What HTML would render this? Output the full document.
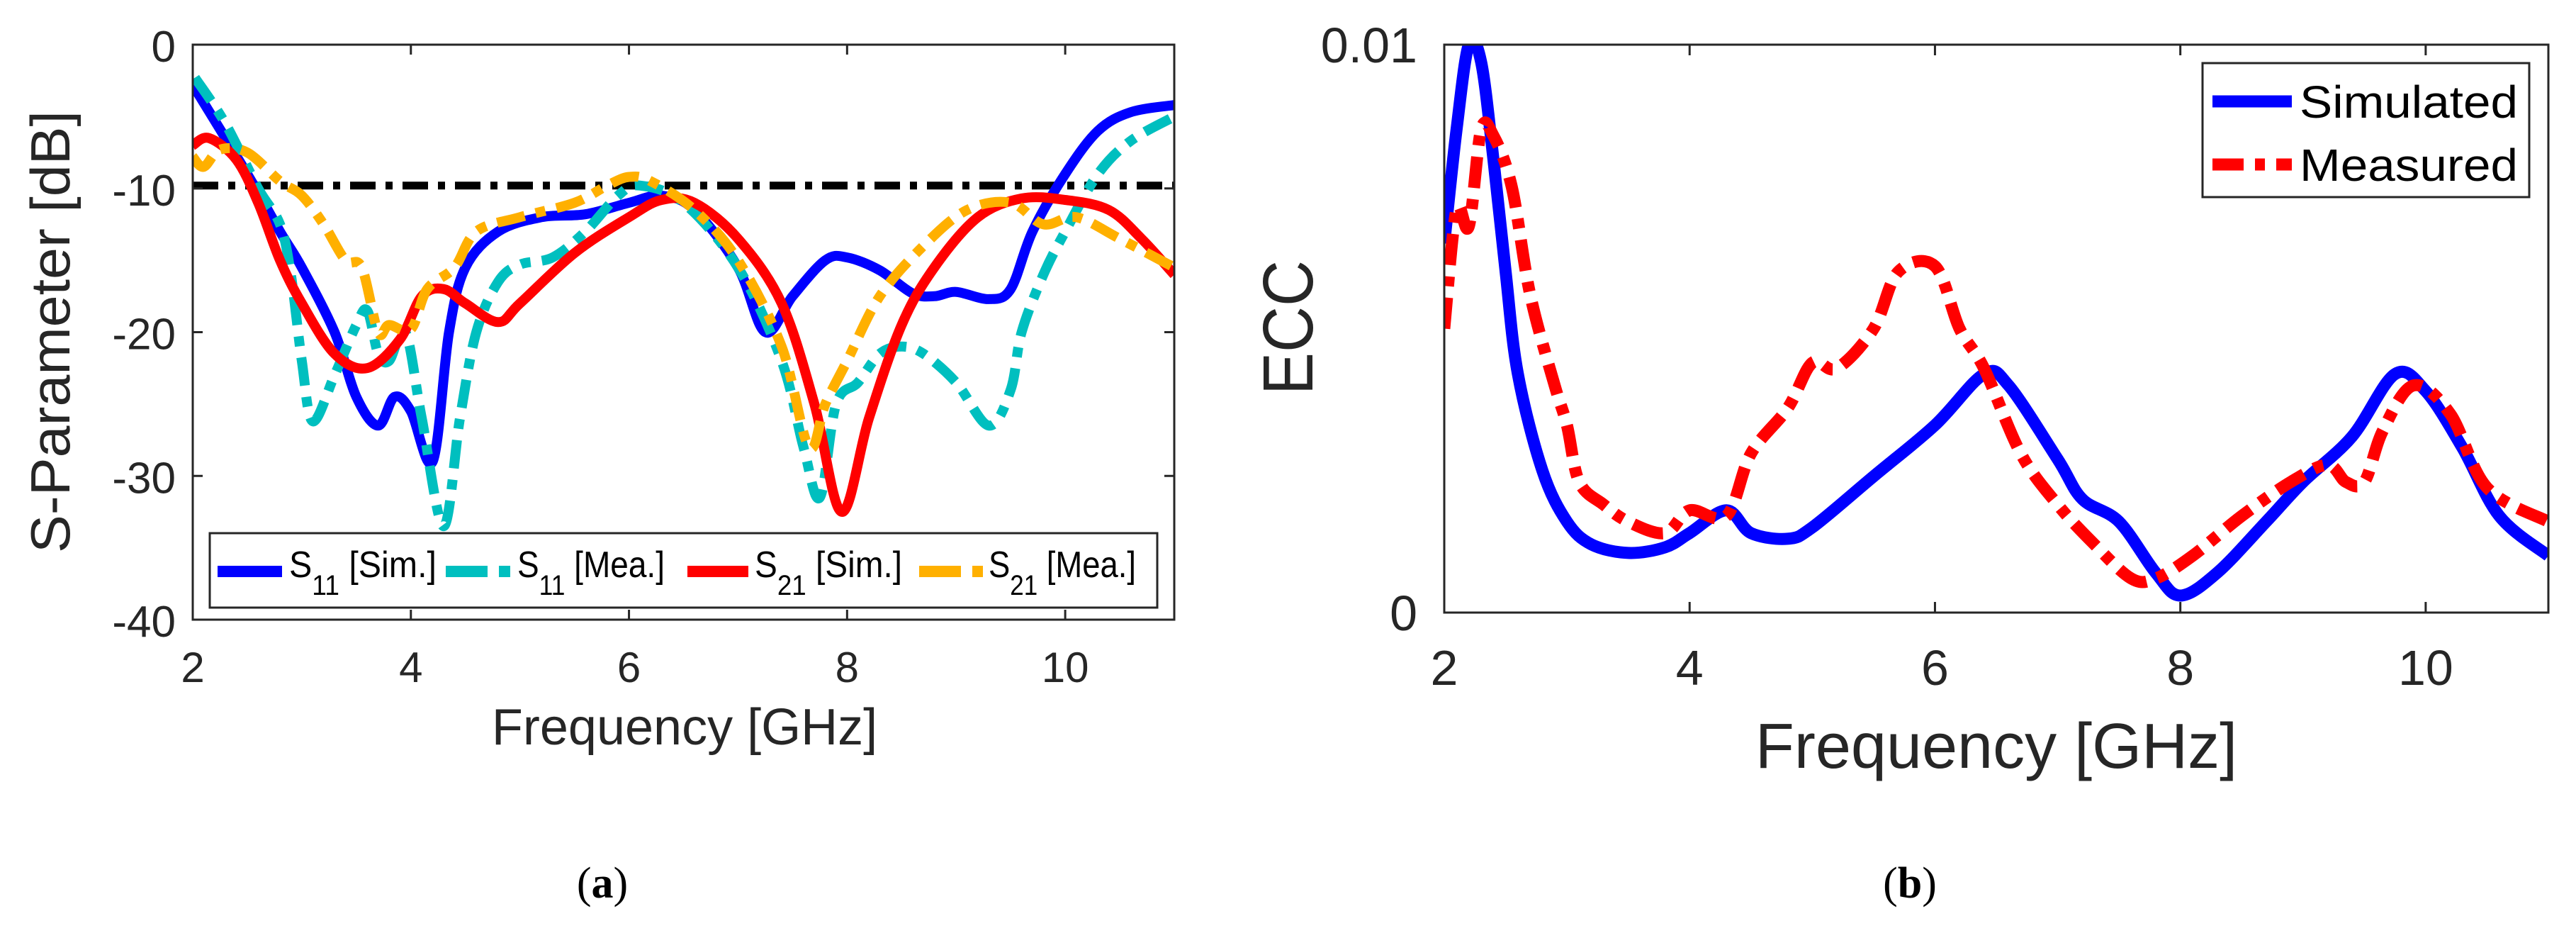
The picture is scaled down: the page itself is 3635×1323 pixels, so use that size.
<!DOCTYPE html>
<html><head><meta charset="utf-8"><style>
html,body{margin:0;padding:0;background:#fff;}
svg{display:block;font-family:"Liberation Sans",sans-serif;}
</style></head><body>
<svg id="fig" width="3635" height="1323" viewBox="0 0 3635 1323" xmlns="http://www.w3.org/2000/svg">
<rect width="3635" height="1323" fill="#fff"/>
<g id="pa"></g>
<g id="pb"></g>
<text x="850" y="1266" font-family="Liberation Serif,serif" font-size="62" text-anchor="middle">(<tspan font-weight="bold">a</tspan>)</text>
<text x="2695" y="1266" font-family="Liberation Serif,serif" font-size="62" text-anchor="middle">(<tspan font-weight="bold">b</tspan>)</text>
</svg>
<script>
// ---- Chart (a) data ----
const aXTicks=[2,4,6,8,10];
const aYTicks=[0,-10,-20,-30,-40];
const aYTickLabels=["0","-10","-20","-30","-40"];
const s11SimX=[2,2.5,2.8,3.0,3.3,3.5,3.7,3.85,4.0,4.2,4.35,4.5,4.8,5.2,5.6,6.0,6.3,6.6,7.0,7.25,7.5,7.8,8.0,8.3,8.6,8.8,9.0,9.3,9.5,9.7,10.0,10.3,10.6,11];
const s11SimY=[-2.8,-9,-13,-15.5,-20,-24.5,-26.5,-24.5,-25.5,-29,-20,-15.5,-13,-12,-11.8,-11,-10.5,-11.5,-15.5,-20,-17.5,-15,-14.8,-15.7,-17.3,-17.5,-17.2,-17.7,-17,-13,-9,-6,-4.7,-4.2];
const s11MeaX=[2.02,2.3,2.6,2.8,2.9,3.0,3.1,3.3,3.5,3.6,3.7,3.8,3.95,4.1,4.3,4.45,4.6,4.8,5.0,5.3,5.6,5.9,6.1,6.5,7.0,7.4,7.6,7.75,7.9,8.1,8.3,8.5,8.7,9.0,9.3,9.5,9.6,9.8,10.0,10.3,10.6,11];
const s11MeaY=[-2.3,-5.5,-10,-12.5,-16,-22,-26.2,-23,-19.5,-18.5,-21.5,-22,-20,-26,-33.5,-26,-20,-16.5,-15.3,-14.8,-13,-10.5,-9.8,-11,-15.5,-22,-28,-31.5,-25,-23.5,-21.5,-21,-21.5,-23.5,-26.5,-24,-20,-16,-13,-9,-6.7,-5];
const s21SimX=[2,2.15,2.4,2.6,2.8,3.0,3.3,3.6,3.9,4.1,4.3,4.5,4.8,5.0,5.5,6.0,6.3,6.6,7.0,7.4,7.7,7.95,8.2,8.5,8.8,9.2,9.6,10.0,10.4,10.7,11];
const s21SimY=[-7,-6.5,-8,-11,-15,-18,-21.5,-22.5,-20.5,-17.5,-17,-18,-19.3,-18,-14.5,-12,-10.8,-11,-13.5,-18,-25,-32.5,-26,-19.5,-15.5,-12,-10.7,-10.8,-11.5,-13.5,-16];
const s21MeaX=[2,2.1,2.25,2.5,2.8,3.0,3.2,3.4,3.55,3.7,3.8,4.0,4.15,4.4,4.6,5.0,5.5,5.8,6.0,6.2,6.6,7.0,7.4,7.65,7.8,8.0,8.3,8.7,9.1,9.5,9.8,10.1,10.5,11];
const s21MeaY=[-7.8,-8.5,-7.3,-7.5,-9.5,-10.5,-12.5,-15,-15.5,-20,-19.5,-19.8,-17,-15.5,-13,-12,-11,-9.8,-9.2,-9.5,-11.5,-15,-21,-28,-25,-22,-17.5,-14,-11.5,-11,-12.5,-12,-13.5,-15.5];
const thresholdDb=[-9.8];
// ---- Chart (b) data ----
const bXTicks=[2,4,6,8,10];
const bYTicks=[0,0.01];
const bYTickLabels=["0","0.01"];
const eccSimX=[2.0,2.1,2.2,2.3,2.4,2.5,2.6,2.8,3.0,3.2,3.5,3.8,4.0,4.3,4.5,4.8,5.0,5.5,6.0,6.4,6.6,7.0,7.2,7.5,7.8,8.0,8.3,8.7,9.0,9.4,9.75,10.0,10.3,10.6,11];
const eccSimY=[0.0065,0.0085,0.0100,0.0097,0.0080,0.0060,0.0042,0.0025,0.0016,0.0012,0.00105,0.00115,0.0014,0.0018,0.0014,0.0013,0.0015,0.0024,0.0033,0.0042,0.0040,0.0027,0.0020,0.0016,0.0007,0.0003,0.0007,0.0016,0.0023,0.0031,0.0042,0.0039,0.0029,0.0017,0.0010];
const eccMeaX=[2.0,2.1,2.2,2.3,2.4,2.55,2.7,2.9,3.0,3.1,3.3,3.5,3.8,4.0,4.3,4.5,4.8,5.0,5.2,5.5,5.7,6.0,6.2,6.4,6.7,7.0,7.3,7.6,7.8,8.1,8.5,8.9,9.2,9.35,9.5,9.65,9.9,10.2,10.5,11];
const eccMeaY=[0.0050,0.0071,0.0068,0.0085,0.0084,0.0075,0.0056,0.0040,0.0033,0.0023,0.0019,0.0016,0.0014,0.0018,0.0017,0.0028,0.0036,0.0044,0.0043,0.0050,0.0060,0.0061,0.0050,0.0043,0.0028,0.0019,0.0012,0.0006,0.0006,0.0010,0.0017,0.0023,0.0026,0.0023,0.0023,0.0032,0.0040,0.0035,0.0022,0.0016];

const NS="http://www.w3.org/2000/svg";
function mk(tag,attrs,parent){const e=document.createElementNS(NS,tag);for(const k in attrs)e.setAttribute(k,attrs[k]);if(parent)parent.appendChild(e);return e;}
function smooth(px,py){let d="M"+px[0].toFixed(1)+","+py[0].toFixed(1);
 for(let i=0;i<px.length-1;i++){const x0=px[Math.max(i-1,0)],y0=py[Math.max(i-1,0)],x1=px[i],y1=py[i],x2=px[i+1],y2=py[i+1],x3=px[Math.min(i+2,px.length-1)],y3=py[Math.min(i+2,py.length-1)];
 const c1x=x1+(x2-x0)/6,c1y=y1+(y2-y0)/6,c2x=x2-(x3-x1)/6,c2y=y2-(y3-y1)/6;
 d+=" C"+c1x.toFixed(1)+","+c1y.toFixed(1)+" "+c2x.toFixed(1)+","+c2y.toFixed(1)+" "+x2.toFixed(1)+","+y2.toFixed(1);}
 return d;}

// ---- Chart (a) ----
(function(){
const g=document.getElementById('pa');
const L=272,R=1657,T=63,B=874;
const xs=v=>L+(v-2)/9*(R-L), ys=v=>T+(0-v)/40*(B-T);
const clip=mk('clipPath',{id:'ca'},g);mk('rect',{x:L,y:T,width:R-L,height:B-T},clip);
const lines=mk('g',{'clip-path':'url(#ca)'},g);


const th=mk('line',{x1:L,x2:R,y1:ys(thresholdDb[0]),y2:ys(thresholdDb[0]),stroke:'#000','stroke-width':11,'stroke-dasharray':'36 14 10 14'},lines);


const series=[[s11SimX,s11SimY,'#0000ff','none','s11-sim-line'],[s11MeaX,s11MeaY,'#00bfbf','40 16 14 16','s11-mea-line'],[s21SimX,s21SimY,'#ff0000','none','s21-sim-line'],[s21MeaX,s21MeaY,'#ffb000','40 16 14 16','s21-mea-line']];
series.forEach(s=>{const p=mk('path',{d:smooth(s[0].map(xs),s[1].map(ys)),fill:'none',stroke:s[2],'stroke-width':14,'stroke-dasharray':s[3],'stroke-linejoin':'round'},lines);
 
 });
mk('rect',{x:L,y:T,width:R-L,height:B-T,fill:'none',stroke:'#262626','stroke-width':3},g);
aXTicks.forEach(v=>{mk('line',{x1:xs(v),x2:xs(v),y1:B,y2:B-14,stroke:'#262626','stroke-width':3},g);mk('line',{x1:xs(v),x2:xs(v),y1:T,y2:T+14,stroke:'#262626','stroke-width':3},g);
 const t=mk('text',{x:xs(v),y:962,'font-size':60,'text-anchor':'middle',fill:'#262626'},g);t.textContent=v;
 
 });
aYTicks.forEach((v,i)=>{mk('line',{x1:L,x2:L+14,y1:ys(v),y2:ys(v),stroke:'#262626','stroke-width':3},g);mk('line',{x1:R,x2:R-14,y1:ys(v),y2:ys(v),stroke:'#262626','stroke-width':3},g);
 const t=mk('text',{x:248,y:ys(v)+24,'font-size':62,'text-anchor':'end',fill:'#262626'},g);t.textContent=aYTickLabels[i];
 
 });
const xt=mk('text',{x:966,y:1050,'font-size':72,'text-anchor':'middle',fill:'#262626'},g);xt.textContent='Frequency [GHz]';


const yt=mk('text',{x:0,y:0,'font-size':78,'text-anchor':'middle',fill:'#262626',textLength:624,lengthAdjust:'spacingAndGlyphs',transform:'translate(98,468) rotate(-90)'},g);yt.textContent='S-Parameter [dB]';


// legend
const lg=mk('g',{},g);


mk('rect',{x:296,y:752,width:1337,height:105,fill:'#fff',stroke:'#262626','stroke-width':3},lg);
const ent=[[307,398,408,'#0000ff','none','11','[Sim.]'],[629,720,730,'#00bfbf','59 16 17 16','11','[Mea.]'],[970,1056,1065,'#ff0000','none','21','[Sim.]'],[1297,1387,1395,'#ffb000','59 16 17 16','21','[Mea.]']];
ent.forEach(e=>{const eg=mk('g',{},lg);
 
 
 mk('line',{x1:e[0],x2:e[1],y1:806,y2:806,stroke:e[3],'stroke-width':16,'stroke-dasharray':e[4]},eg);
 const t=mk('text',{x:e[2],y:814,'font-size':52,fill:'#000'},eg);
 t.innerHTML='S<tspan font-size="40" dy="25">'+e[5]+'</tspan><tspan dy="-25"> '+e[6]+'</tspan>';
 t.setAttribute('textLength','208');t.setAttribute('lengthAdjust','spacingAndGlyphs');});
})();

// ---- Chart (b) ----
(function(){
const g=document.getElementById('pb');
const L=2038,R=3596,T=63,B=864;
const xs=v=>L+(v-2)/9*(R-L), ys=v=>B-v/0.01*(B-T);
const clip=mk('clipPath',{id:'cb'},g);mk('rect',{x:L,y:T,width:R-L,height:B-T},clip);
const lines=mk('g',{'clip-path':'url(#cb)'},g);


const series=[[eccSimX,eccSimY,'#0000ff','none','ecc-simulated-line'],[eccMeaX,eccMeaY,'#ff0000','44 16 14 16','ecc-measured-line']];
series.forEach(s=>{const p=mk('path',{d:smooth(s[0].map(xs),s[1].map(ys)),fill:'none',stroke:s[2],'stroke-width':17,'stroke-dasharray':s[3],'stroke-linejoin':'round'},lines);
 
 });
mk('rect',{x:L,y:T,width:R-L,height:B-T,fill:'none',stroke:'#262626','stroke-width':3},g);
bXTicks.forEach(v=>{mk('line',{x1:xs(v),x2:xs(v),y1:B,y2:B-15,stroke:'#262626','stroke-width':3},g);mk('line',{x1:xs(v),x2:xs(v),y1:T,y2:T+15,stroke:'#262626','stroke-width':3},g);
 const t=mk('text',{x:xs(v),y:966,'font-size':70,'text-anchor':'middle',fill:'#262626'},g);t.textContent=v;
 
 });
bYTicks.forEach((v,i)=>{const t=mk('text',{x:2000,y:ys(v)+25,'font-size':70,'text-anchor':'end',fill:'#262626'},g);t.textContent=bYTickLabels[i];
 
 });
const xt=mk('text',{x:2817,y:1083,'font-size':90,'text-anchor':'middle',fill:'#262626'},g);xt.textContent='Frequency [GHz]';


const yt=mk('text',{x:0,y:0,'font-size':100,'text-anchor':'middle',fill:'#262626',textLength:190,lengthAdjust:'spacingAndGlyphs',transform:'translate(1852,462) rotate(-90)'},g);yt.textContent='ECC';


const lg=mk('g',{},g);


mk('rect',{x:3108,y:89,width:461,height:189,fill:'#fff',stroke:'#262626','stroke-width':3},lg);
[[143,'#0000ff','none','Simulated'],[232,'#ff0000','44 16 14 16','Measured']].forEach(e=>{const eg=mk('g',{},lg);
 
 
 mk('line',{x1:3122,x2:3234,y1:e[0],y2:e[0],stroke:e[1],'stroke-width':17,'stroke-dasharray':e[2]},eg);
 const t=mk('text',{x:3245,y:e[0]+23,'font-size':64,fill:'#000',textLength:308,lengthAdjust:'spacingAndGlyphs'},eg);t.textContent=e[3];});
})();
</script>
</body></html>
